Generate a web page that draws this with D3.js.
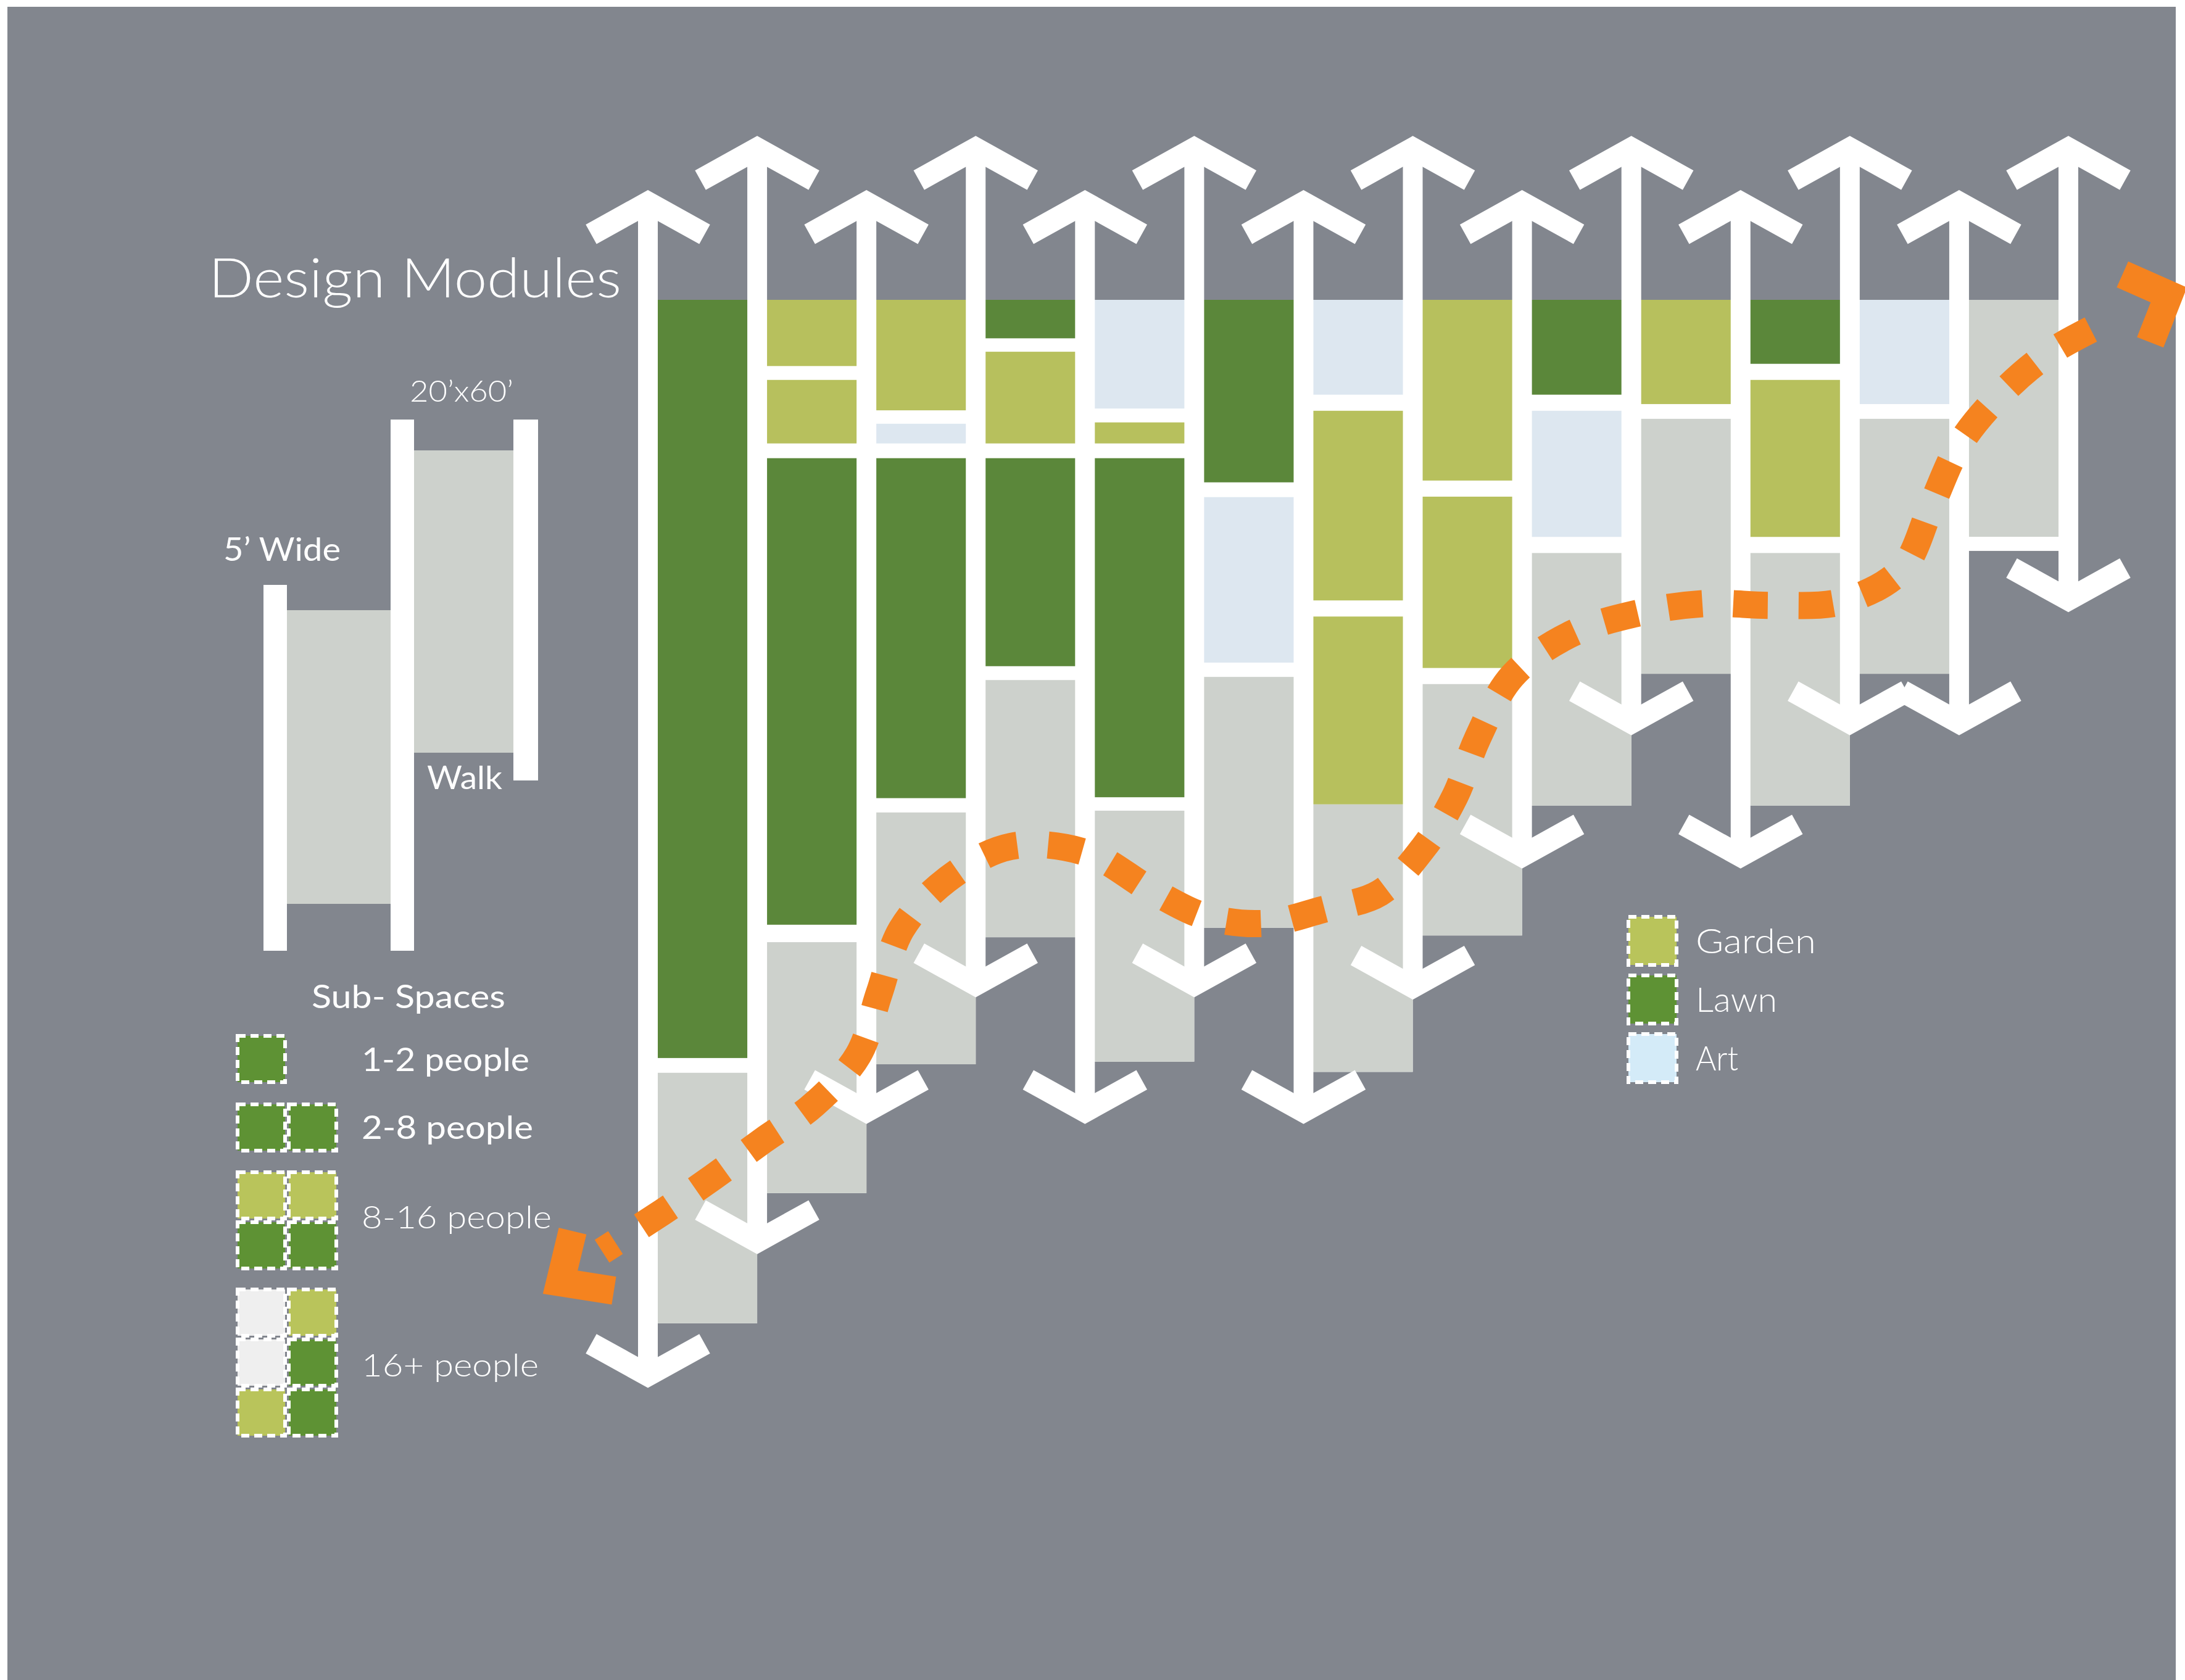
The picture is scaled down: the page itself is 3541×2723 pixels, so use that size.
<!DOCTYPE html>
<html>
<head>
<meta charset="utf-8">
<script src="https://cdn.jsdelivr.net/npm/d3@7"></script>
<style>
  html, body { margin: 0; padding: 0; background: #fff; }
  svg { display: block; }
</style>
</head>
<body>
<div id="chart"></div>
<script>
// ---- data (depth in feet from the top edge of the modules, walks by index) ----
const walkIndex = d3.range(14);
const walkTop = [-24.6, -36.7, -24.6, -36.7, -24.6, -36.7, -24.6, -36.7, -24.6, -36.7, -24.6, -36.7, -24.6, -36.7];
const walkBottom = [243.3, 213.4, 184.3, 156.0, 184.3, 156.0, 184.3, 156.5, 127.2, 97.4, 127.2, 97.4, 97.4, 69.9];

// sub-spaces in each module (between walk i and walk i+1): [use, from, to]
const modules = [
  [["lawn", 0, 169.5], ["walk", 172.8, 228.8]],
  [["garden", 0, 14.8], ["garden", 17.9, 32.1], ["lawn", 35.4, 139.7], ["walk", 143.6, 199.7]],
  [["garden", 0, 24.7], ["art", 27.7, 32.1], ["lawn", 35.4, 111.4], ["walk", 114.6, 170.9]],
  [["lawn", 0, 8.6], ["garden", 11.6, 32.1], ["lawn", 35.4, 81.9], ["walk", 85.0, 142.5]],
  [["art", 0, 24.3], ["garden", 27.4, 32.1], ["lawn", 35.4, 111.2], ["walk", 114.2, 170.3]],
  [["lawn", 0, 40.8], ["art", 44.1, 81.1], ["walk", 84.3, 140.4]],
  [["art", 0, 21.2], ["garden", 24.8, 67.2], ["garden", 70.8, 112.8], ["walk", 112.8, 172.6]],
  [["garden", 0, 40.4], ["garden", 44.0, 82.3], ["walk", 85.9, 142.1]],
  [["lawn", 0, 21.2], ["art", 24.8, 53.0], ["walk", 56.6, 113.1]],
  [["garden", 0, 23.3], ["walk", 26.6, 83.6]],
  [["lawn", 0, 14.3], ["garden", 17.9, 53.0], ["walk", 56.6, 113.1]],
  [["art", 0, 23.3], ["walk", 26.6, 83.6]],
  [["walk", 0, 53.0], ["path", 53.0, 56.1]]
];

// route through the modules: [walk index, depth]
const route = [
  [-0.42, 212.7], [0.136, 203.9], [0.599, 196.1], [1.056, 187.9], [1.519, 179.9],
  [1.925, 168.8], [2.117, 155.0], [2.321, 140.7], [2.733, 129.7], [3.320, 122.2],
  [4.026, 123.7], [4.608, 132.0], [5.110, 137.9], [5.641, 139.4], [6.177, 136.3],
  [6.697, 132.6], [7.103, 122.3], [7.386, 111.0], [7.595, 97.9], [7.911, 84.1],
  [8.425, 75.0], [9.034, 70.2], [9.667, 67.9], [10.305, 68.3], [10.937, 67.4],
  [11.474, 60.3], [11.745, 46.1], [12.005, 32.3], [12.377, 21.2], [12.818, 12.0],
  [13.354, 4.8], [13.40, 4.2]
];
const routeStart = [[-0.689, 208.2], [-0.802, 219.6], [-0.311, 221.5]];
const routeEnd = [[13.495, -5.7], [13.919, -1.1], [13.749, 9.5]];

const useNames = ["Garden", "Lawn", "Art"];
const useKeys = ["garden", "lawn", "art"];

const groupLabels = ["1-2 people", "2-8 people", "8-16 people", "16+ people"];
const groupCells = [
  [["lawn"]],
  [["lawn", "lawn"]],
  [["garden", "garden"], ["lawn", "lawn"]],
  [["blank", "garden"], ["blank", "lawn"], ["garden", "lawn"]]
];

// ---- setup ----
const W = 3541, H = 2723;
const colors = {
  lawn: "#5b873a", garden: "#b7c05d", art: "#dde7f0", walk: "#cdd1cc", path: "#ffffff", blank: "#efefef"
};
const keyColors = { garden: "#b9c45b", lawn: "#5e9234", art: "#d4ebf8", blank: "#efefef" };
const font = "Lato, 'Open Sans', sans-serif";

const svg = d3.select("#chart").append("svg")
  .attr("width", W).attr("height", H)
  .attr("viewBox", [0, 0, W, H]);

svg.append("rect")
  .attr("x", 12).attr("y", 11)
  .attr("width", 3514).attr("height", H - 11)
  .attr("fill", "#82868e");

const x = d3.scaleLinear().domain([0, 13]).range([1050, 3352]);
const y = d3.scaleLinear().domain([0, 100]).range([486, 1211]);

// ---- modules ----
const cols = svg.append("g").selectAll("g")
  .data(modules)
  .join("g");

// white behind sub-spaces shows as separators
cols.append("rect")
  .attr("x", (d, i) => x(i))
  .attr("width", (d, i) => x(i + 1) - x(i))
  .attr("y", d => y(d[0][1]))
  .attr("height", d => y(d[d.length - 1][2]) - y(d[0][1]))
  .attr("fill", "#fff");

cols.selectAll("rect.space")
  .data((d, i) => d.map(b => ({ col: i, use: b[0], from: b[1], to: b[2] })))
  .join("rect")
  .attr("class", "space")
  .attr("x", d => x(d.col))
  .attr("width", d => x(d.col + 1) - x(d.col))
  .attr("y", d => y(d.from))
  .attr("height", d => y(d.to) - y(d.from))
  .attr("fill", d => colors[d.use]);

// ---- walks (double arrows) ----
const shaftW = 32;
const walks = svg.append("g").selectAll("g")
  .data(walkIndex)
  .join("g");

walks.append("rect")
  .attr("x", i => x(i) - shaftW / 2)
  .attr("width", shaftW)
  .attr("y", i => y(walkTop[i]) + 20)
  .attr("height", i => y(walkBottom[i]) - y(walkTop[i]) - 40)
  .attr("fill", "#fff");

const head = d3.line();
walks.append("path")
  .attr("d", i => {
    const cx = x(i), t = y(walkTop[i]);
    return head([[cx - 92, t + 72], [cx, t + 21], [cx + 92, t + 72]]);
  })
  .attr("fill", "none").attr("stroke", "#fff").attr("stroke-width", 36)
  .attr("stroke-linejoin", "miter").attr("stroke-linecap", "butt");

walks.append("path")
  .attr("d", i => {
    const cx = x(i), b = y(walkBottom[i]);
    return head([[cx - 92, b - 72], [cx, b - 21], [cx + 92, b - 72]]);
  })
  .attr("fill", "none").attr("stroke", "#fff").attr("stroke-width", 36)
  .attr("stroke-linejoin", "miter").attr("stroke-linecap", "butt");

// ---- route ----
const orange = "#f5831f";
const routeLine = d3.line()
  .x(d => x(d[0])).y(d => y(d[1]))
  .curve(d3.curveCatmullRom.alpha(0.5));

svg.append("path")
  .attr("d", routeLine(route))
  .attr("fill", "none")
  .attr("stroke", orange)
  .attr("stroke-width", 44)
  .attr("stroke-dasharray", "56 50")
  .attr("stroke-dashoffset", 30);

const chev = d3.line().x(d => x(d[0])).y(d => y(d[1]));
svg.selectAll("path.chev")
  .data([routeStart, routeEnd])
  .join("path")
  .attr("class", "chev")
  .attr("d", chev)
  .attr("fill", "none")
  .attr("stroke", orange)
  .attr("stroke-width", 46)
  .attr("stroke-linejoin", "miter")
  .attr("stroke-linecap", "butt");

// ---- title ----
svg.append("text")
  .attr("x", 338).attr("y", 482)
  .attr("font-family", font).attr("font-weight", 300)
  .attr("font-size", 88).attr("fill", "#fff")
  .attr("textLength", 669).attr("lengthAdjust", "spacingAndGlyphs")
  .text("Design Modules");

// ---- module sketch ----
const sketch = svg.append("g");
[[465, 989, 168, 476], [671, 730, 161, 490]].forEach(r => {
  sketch.append("rect").attr("x", r[0]).attr("y", r[1]).attr("width", r[2]).attr("height", r[3]).attr("fill", colors.walk);
});
[[427, 948, 38, 593], [633, 680, 38, 861], [832, 680, 40, 585]].forEach(r => {
  sketch.append("rect").attr("x", r[0]).attr("y", r[1]).attr("width", r[2]).attr("height", r[3]).attr("fill", "#fff");
});

function label(txt, tx, ty, size, weight, len) {
  svg.append("text")
    .attr("x", tx).attr("y", ty)
    .attr("font-family", font).attr("font-weight", weight)
    .attr("font-size", size).attr("fill", "#fff")
    .attr("textLength", len).attr("lengthAdjust", "spacingAndGlyphs")
    .text(txt);
}
label("20\u2019x60\u2019", 664, 651, 48, 300, 168);
label("5\u2019 Wide", 362, 909, 52, 400, 190);
label("Walk", 692, 1279, 52, 400, 122);
label("Sub- Spaces", 505, 1634, 52, 400, 314);

// ---- sub-space key ----
const cellW = 83, cellH = 81;
const groupTop = [1676, 1787, 1897, 2087];
const groupBase = [1736, 1846, 1991, 2231];
const groupLen = [272, 278, 308, 287];
const groupWeight = [400, 400, 300, 300];

groupCells.forEach((rows, g) => {
  rows.forEach((row, r) => {
    row.forEach((use, c) => {
      svg.append("rect")
        .attr("x", 382 + c * cellW + 3).attr("y", groupTop[g] + r * cellH + 3)
        .attr("width", cellW - 6).attr("height", cellH - 6)
        .attr("fill", keyColors[use])
        .attr("stroke", "#fff").attr("stroke-width", 6)
        .attr("stroke-dasharray", "13 8");
    });
  });
  label(groupLabels[g], 586, groupBase[g], 52, groupWeight[g], groupLen[g]);
});

// ---- use key ----
const keyTop = [1483, 1578, 1673];
const keyBase = [1545, 1640, 1735];
const keyLen = [195, 132, 69];
useKeys.forEach((k, i) => {
  svg.append("rect")
    .attr("x", 2639).attr("y", keyTop[i] + 3)
    .attr("width", 78).attr("height", 78)
    .attr("fill", keyColors[k])
    .attr("stroke", "#fff").attr("stroke-width", 6)
    .attr("stroke-dasharray", "13 8");
  label(useNames[i], 2748, keyBase[i], 56, 300, keyLen[i]);
});
</script>
</body>
</html>
